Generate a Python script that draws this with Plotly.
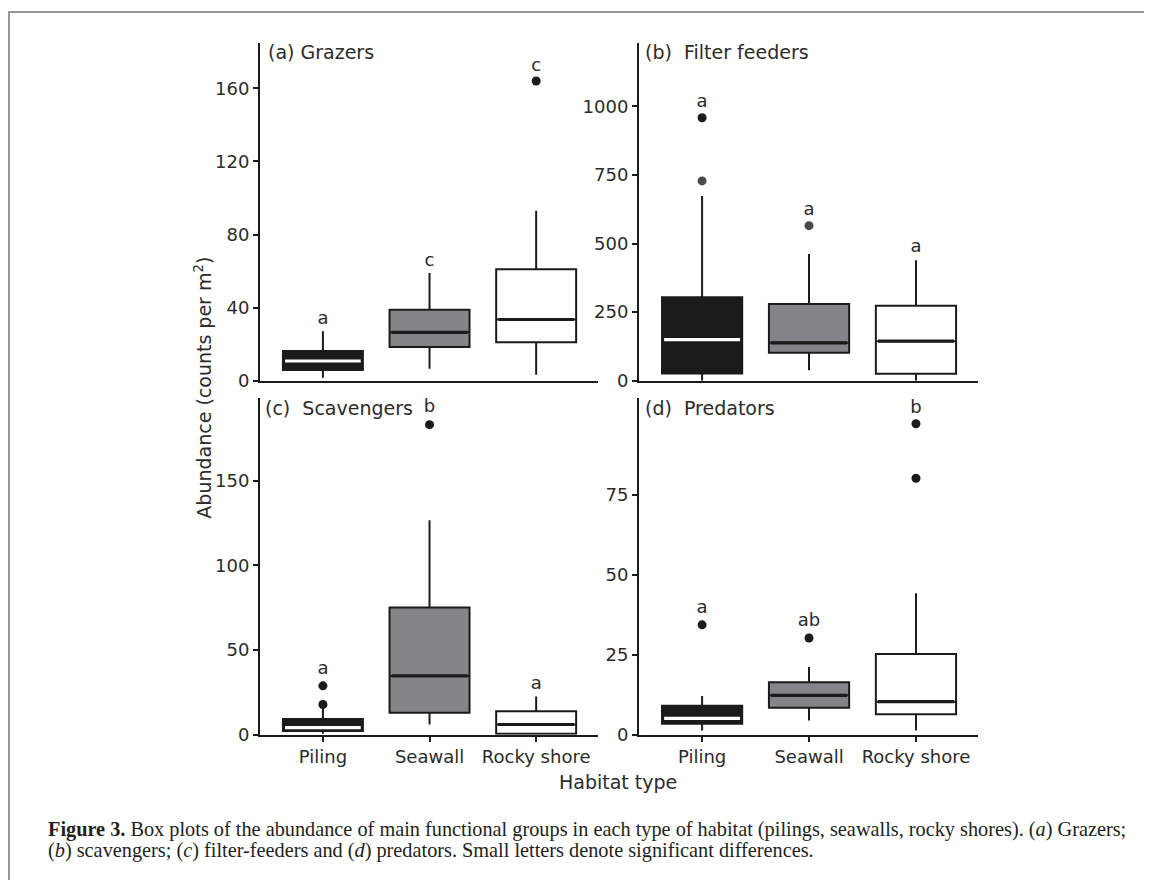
import plotly.graph_objects as go

# The page has an 8px default body margin: the figure is sized and placed to fill the window exactly.
PAGE_W, PAGE_H, OFF = 1152, 890, 8
W, H = PAGE_W - OFF, PAGE_H - OFF


def px(x):
    return (x - OFF) / W


def py(y):
    return 1 - (y - OFF) / H


habitats = ["Piling", "Seawall", "Rocky shore"]
fills = ["#1b1b1b", "#858589", "#ffffff"]
median_colors = ["#ffffff", "#1b1b1b", "#1b1b1b"]

# (a) Grazers
a_low = [1.6, 6.5, 3.2]
a_q1 = [5.9, 18.4, 21.0]
a_med = [10.8, 26.5, 33.5]
a_q3 = [16.2, 38.9, 61.0]
a_up = [27.0, 58.9, 93.0]
a_out_x = ["Rocky shore"]
a_out_y = [164.0]
a_out_c = ["#1b1b1b"]
a_letters = ["a", "c", "c"]
a_letter_y = [33.5, 65.0, 172.0]

# (b) Filter feeders
b_low = [0.0, 38.0, 0.0]
b_q1 = [26.0, 102.0, 25.0]
b_med = [150.0, 138.0, 144.0]
b_q3 = [304.0, 280.0, 273.0]
b_up = [673.0, 462.0, 439.0]
b_out_x = ["Piling", "Piling", "Seawall"]
b_out_y = [958.0, 728.0, 565.0]
b_out_c = ["#1b1b1b", "#4a4a4c", "#4a4a4c"]
b_letters = ["a", "a", "a"]
b_letter_y = [1015.0, 622.0, 486.0]

# (c) Scavengers
c_low = [0.5, 6.0, 0.6]
c_q1 = [2.2, 12.9, 0.6]
c_med = [4.2, 34.7, 6.0]
c_q3 = [9.2, 75.0, 13.8]
c_up = [15.5, 126.5, 22.6]
c_out_x = ["Piling", "Piling", "Seawall"]
c_out_y = [28.8, 17.8, 183.0]
c_out_c = ["#1b1b1b", "#1b1b1b", "#1b1b1b"]
c_letters = ["a", "b", "a"]
c_letter_y = [38.5, 193.0, 29.8]

# (d) Predators
d_low = [1.3, 4.4, 1.3]
d_q1 = [3.4, 8.4, 6.4]
d_med = [5.1, 12.3, 10.3]
d_q3 = [9.0, 16.4, 25.2]
d_up = [12.1, 21.1, 44.2]
d_out_x = ["Piling", "Seawall", "Rocky shore", "Rocky shore"]
d_out_y = [34.3, 30.2, 97.1, 80.1]
d_out_c = ["#1b1b1b", "#1b1b1b", "#1b1b1b", "#1b1b1b"]
d_letters = ["a", "ab", "b"]
d_letter_y = [39.4, 35.5, 102.0]

panel_titles = ["(a) Grazers", "(b)\u00a0 Filter feeders", "(c)\u00a0 Scavengers", "(d)\u00a0 Predators"]
y_ticks = [[0, 40, 80, 120, 160], [0, 250, 500, 750, 1000], [0, 50, 100, 150], [0, 25, 50, 75]]
y_ranges = [[0, 185], [0, 1232], [0, 199], [0, 105.3]]

panels = [
    (a_low, a_q1, a_med, a_q3, a_up, a_out_x, a_out_y, a_out_c, a_letters, a_letter_y),
    (b_low, b_q1, b_med, b_q3, b_up, b_out_x, b_out_y, b_out_c, b_letters, b_letter_y),
    (c_low, c_q1, c_med, c_q3, c_up, c_out_x, c_out_y, c_out_c, c_letters, c_letter_y),
    (d_low, d_q1, d_med, d_q3, d_up, d_out_x, d_out_y, d_out_c, d_letters, d_letter_y),
]

INK = "#1b1b1b"
TXT = "#2b2b2b"
FONT = "DejaVu Sans"

fig = go.Figure()

for p, (low, q1, med, q3, up, ox, oy, oc, let, ly) in enumerate(panels):
    xa = "x" if p == 0 else f"x{p+1}"
    ya = "y" if p == 0 else f"y{p+1}"
    for i, hab in enumerate(habitats):
        fig.add_trace(go.Box(
            x=[hab], q1=[q1[i]], median=[med[i]], q3=[q3[i]],
            lowerfence=[low[i]], upperfence=[up[i]],
            fillcolor=fills[i], line=dict(color=INK, width=2),
            width=0.75, whiskerwidth=0, boxpoints=False,
            xaxis=xa, yaxis=ya, showlegend=False, hoverinfo="skip"))
        # thick median line drawn as a flat box
        fig.add_trace(go.Box(
            x=[hab], q1=[med[i]], median=[med[i]], q3=[med[i]],
            lowerfence=[med[i]], upperfence=[med[i]],
            fillcolor="rgba(0,0,0,0)", line=dict(color=median_colors[i], width=3.2),
            width=0.71, whiskerwidth=0, boxpoints=False,
            xaxis=xa, yaxis=ya, showlegend=False, hoverinfo="skip"))
    fig.add_trace(go.Scatter(
        x=ox, y=oy, mode="markers",
        marker=dict(size=9, color=oc, line=dict(width=0)),
        xaxis=xa, yaxis=ya, showlegend=False, hoverinfo="skip", cliponaxis=False))
    fig.add_trace(go.Scatter(
        x=habitats, y=ly, mode="text", text=let,
        textfont=dict(family=FONT, size=18, color=TXT),
        textposition="middle center",
        xaxis=xa, yaxis=ya, showlegend=False, hoverinfo="skip", cliponaxis=False))

x_left = [px(260), px(598)]
x_right = [px(639), px(978)]
y_top = [py(385), py(43)]
y_bot = [py(743), py(402)]
domains = [(x_left, y_top), (x_right, y_top), (x_left, y_bot), (x_right, y_bot)]

layout = dict(
    width=W, height=H,
    margin=dict(l=0, r=0, t=0, b=0),
    paper_bgcolor="white", plot_bgcolor="white",
    boxmode="overlay", showlegend=False,
    font=dict(family=FONT, color=TXT),
)

for p in range(4):
    xk = "xaxis" if p == 0 else f"xaxis{p+1}"
    yk = "yaxis" if p == 0 else f"yaxis{p+1}"
    ya = "y" if p == 0 else f"y{p+1}"
    xa = "x" if p == 0 else f"x{p+1}"
    bottom = p >= 2
    layout[xk] = dict(
        domain=domains[p][0], anchor=ya, type="category",
        categoryorder="array", categoryarray=habitats,
        range=[-0.59, 2.58], showline=True, linecolor=INK, linewidth=2,
        showgrid=False, zeroline=False,
        ticks="outside" if bottom else "", ticklen=5, tickwidth=2, tickcolor=INK,
        showticklabels=bottom,
        tickfont=dict(family=FONT, size=18, color=TXT),
    )
    layout[yk] = dict(
        domain=domains[p][1], anchor=xa, range=y_ranges[p],
        tickmode="array", tickvals=y_ticks[p],
        showline=True, linecolor=INK, linewidth=2,
        showgrid=False, zeroline=False,
        ticks="outside", ticklen=5, tickwidth=2, tickcolor=INK,
        ticklabelstandoff=0,
        tickfont=dict(family=FONT, size=18, color=TXT),
    )

fig.update_layout(**layout)

title_pos = [(266, 53), (643, 53), (263, 413), (643, 413)]
for t, (tx, ty) in zip(panel_titles, title_pos):
    fig.add_annotation(text=t, xref="paper", yref="paper", x=px(tx), y=py(ty),
                       xanchor="left", yanchor="middle", showarrow=False,
                       font=dict(family=FONT, size=19, color=TXT))

fig.add_annotation(text="Abundance (counts per m<sup>2</sup>)", xref="paper", yref="paper",
                   x=px(203), y=py(392), textangle=-90, showarrow=False,
                   xanchor="center", yanchor="middle",
                   font=dict(family=FONT, size=19, color=TXT))
fig.add_annotation(text="Habitat type", xref="paper", yref="paper",
                   x=px(618), y=py(791), showarrow=False,
                   xanchor="center", yanchor="middle",
                   font=dict(family=FONT, size=19, color=TXT))

caption_lines = [
    "<b>Figure 3.</b> Box plots of the abundance of main functional groups in each type of habitat "
    "(pilings, seawalls, rocky shores). (<i>a</i>) Grazers;",
    "(<i>b</i>) scavengers; (<i>c</i>) filter-feeders and (<i>d</i>) predators. "
    "Small letters denote significant differences.",
]
for line, ly in zip(caption_lines, [839, 860]):
    fig.add_annotation(text=line, xref="paper", yref="paper",
                       x=px(46), y=py(ly), xanchor="left", yanchor="middle",
                       align="left", showarrow=False,
                       font=dict(family="Liberation Serif", size=20.3, color="#231f20"))

frame = "#98979c"
fig.add_shape(type="line", xref="paper", yref="paper",
              x0=px(9), x1=px(9), y0=0, y1=py(12),
              line=dict(color=frame, width=2))
fig.add_shape(type="line", xref="paper", yref="paper",
              x0=px(8), x1=1, y0=py(12), y1=py(12),
              line=dict(color=frame, width=2))

fig.write_html("out.html")
